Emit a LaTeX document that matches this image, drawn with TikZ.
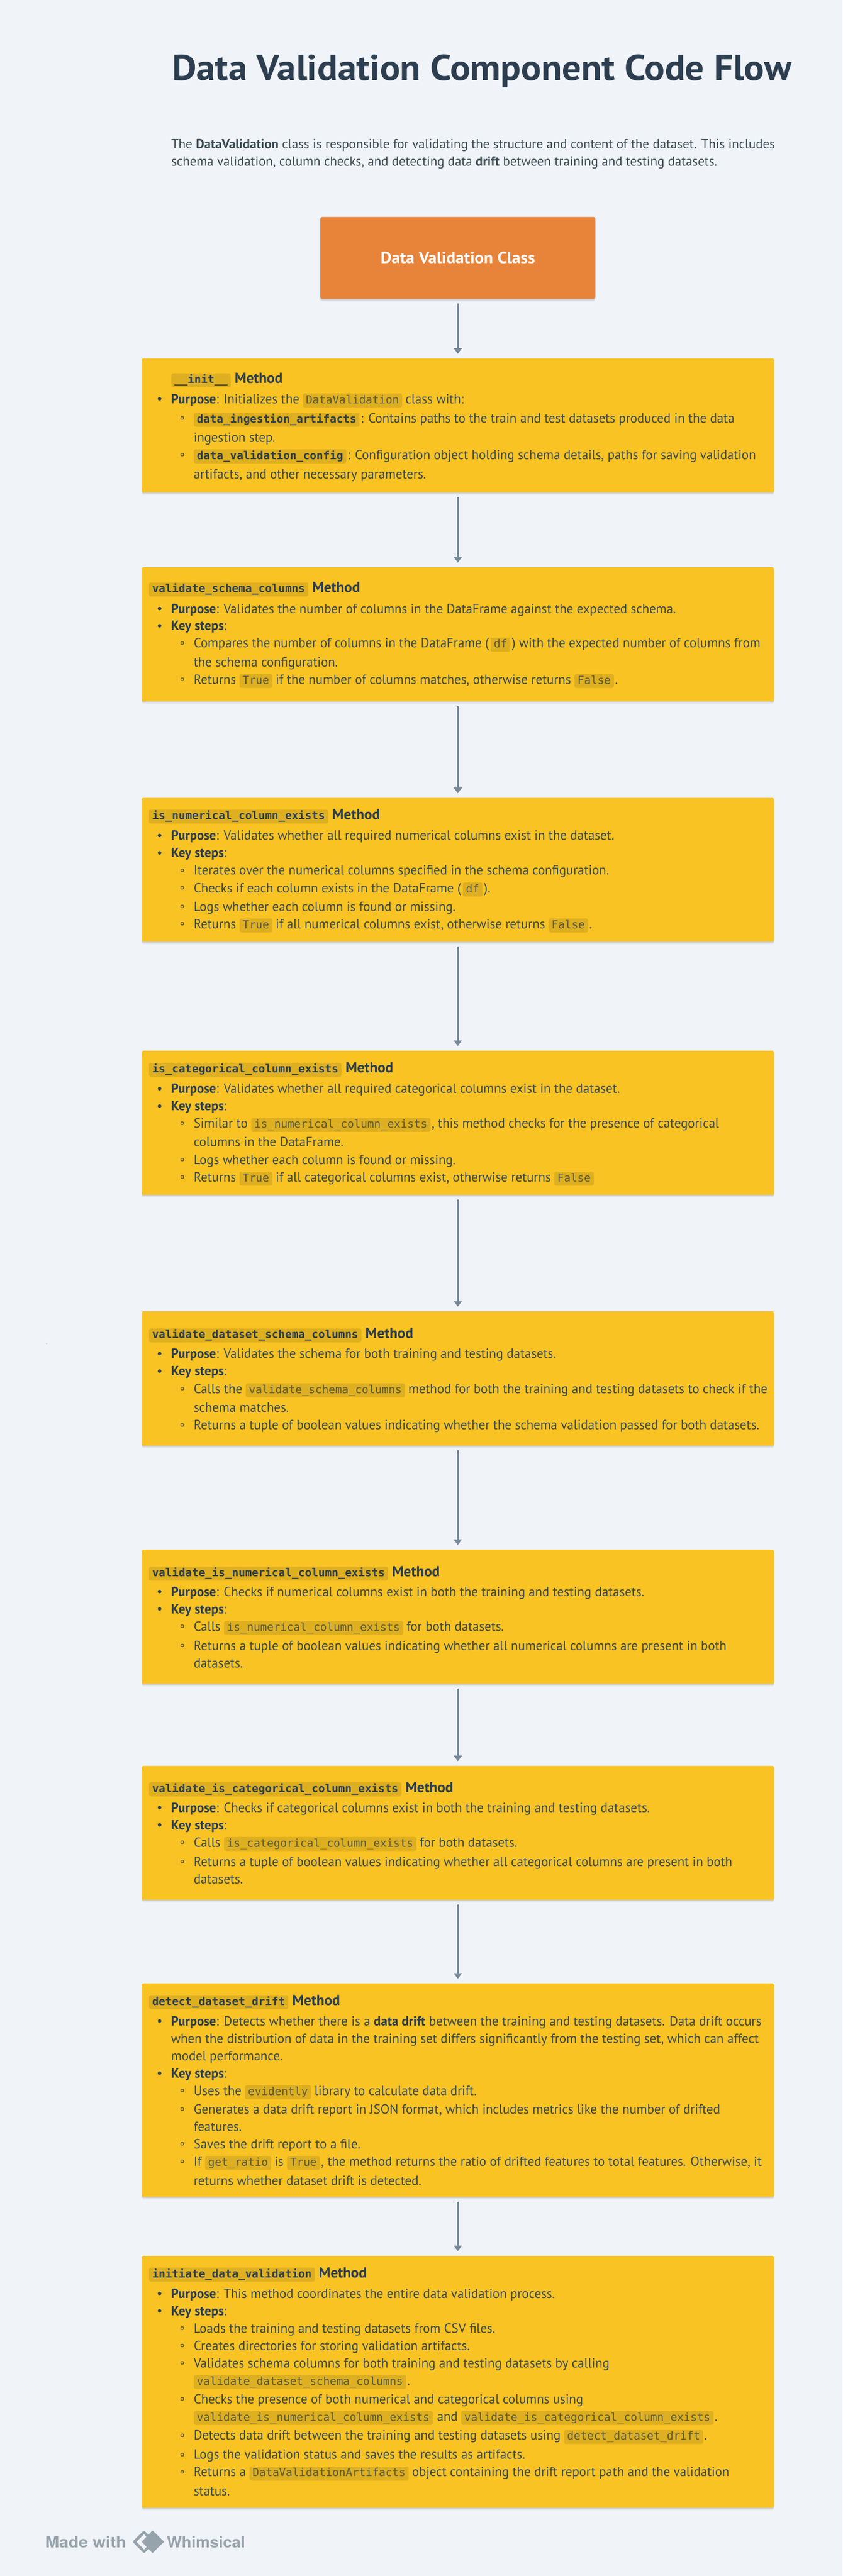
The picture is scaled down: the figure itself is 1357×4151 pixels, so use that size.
\documentclass[tikz,border=0pt]{standalone}
\usepackage{fontspec}
\usetikzlibrary{arrows.meta,shadows}
\setmainfont{PT Sans}
\newfontfamily\bodyf{PT Sans}[FakeStretch=0.98]
\newfontfamily\titlef{PT Sans}[FakeStretch=1.05]
\newfontfamily\classf{PT Sans}[FakeStretch=1.06]
\newfontfamily\methf{PT Sans}[FakeStretch=1.0]
\newfontfamily\codef{DejaVu Sans Mono}
\newfontfamily\footf{TeX Gyre Heros}[FakeStretch=1.08]
\newfontfamily\footg{TeX Gyre Heros}[FakeStretch=1.02]
\definecolor{bgc}{HTML}{F0F4F8}
\definecolor{yel}{HTML}{F9C324}
\definecolor{org}{HTML}{E8833A}
\definecolor{arrc}{HTML}{778899}
\definecolor{bodyc}{HTML}{3A4A52}
\definecolor{darkc}{HTML}{2C3E50}
\definecolor{codebg}{HTML}{DEAF20}
\definecolor{codec}{HTML}{585A40}
\definecolor{footc}{HTML}{97A3AC}
\tikzset{
  txt/.style={font=\bodyf\fontsize{21.5}{24}\selectfont,text=bodyc,inner sep=0pt,outer sep=0pt,anchor=base west},
  meth/.style={font=\methf\bfseries\fontsize{23.5}{26}\selectfont,text=darkc,inner sep=0pt,outer sep=0pt,anchor=base west},
  codebox/.style={fill=codebg,rounded corners=3pt,inner xsep=5pt,inner ysep=0pt,outer sep=0pt,text height=16pt,text depth=6.5pt,anchor=base west,font=\codef\fontsize{17.8}{20}\selectfont,text=codec},
  codebold/.style={codebox,font=\codef\bfseries\fontsize{17.8}{20}\selectfont,text=darkc},
  ybox/.style={fill=yel,rounded corners=3pt,inner sep=0pt,outer sep=0pt,minimum width=1019pt,
    drop shadow={shadow xshift=0pt,shadow yshift=-2pt,opacity=.10,fill=black},
    drop shadow={shadow xshift=0pt,shadow yshift=-4pt,opacity=.05,fill=black}},
  obox/.style={fill=org,rounded corners=3pt,inner sep=0pt,outer sep=0pt,minimum width=443pt,minimum height=132pt,
    drop shadow={shadow xshift=0pt,shadow yshift=-2pt,opacity=.10,fill=black},
    drop shadow={shadow xshift=0pt,shadow yshift=-4pt,opacity=.05,fill=black}},
  arr/.style={draw=arrc,line width=3.2pt,-{Triangle[length=9pt,width=13pt]},shorten <=7.5pt,shorten >=7.5pt},
}
\newcount\nn
\newcommand\LN[2]{\gdef\curpos{#1,-#2}}
\newcommand\T[2][0]{\global\advance\nn 1 \node[txt] (n\the\nn) at ([xshift=#1pt]\curpos) {#2}; \xdef\curpos{n\the\nn.base east}}
\newcommand\C[2][5.5]{\global\advance\nn 1 \node[codebox] (n\the\nn) at ([xshift=#1pt]\curpos) {#2}; \xdef\curpos{n\the\nn.base east}}
\newcommand\CB[2][0]{\global\advance\nn 1 \node[codebold] (n\the\nn) at ([xshift=#1pt]\curpos) {#2}; \xdef\curpos{n\the\nn.base east}}
\newcommand\M{\global\advance\nn 1 \node[meth] (n\the\nn) at ([xshift=6.5pt]\curpos) {Method};}
\newcommand\PL[1]{\fill[darkc] (257,{-#1+7.4}) circle (2.9); \LN{275.7}{#1}}
\newcommand\SL[1]{\draw[codec,line width=1.2pt] (293.5,{-#1+7.4}) circle (2.4); \LN{312}{#1}}
\newcommand\CL[1]{\LN{312}{#1}}
\newcommand\TL[3]{\LN{#1}{#2}\CB{#3}\M}
\newcommand\BX[3]{\node[ybox,minimum height={(#3-#2)*1pt}] (#1) at (737.5,{-(#2+#3)/2}) {};}
\begin{document}
\begin{tikzpicture}[x=1pt,y=1pt]
\useasboundingbox (0,0) rectangle (1357,-4151);
\fill[bgc] (0,0) rectangle (1357,-4151);
% title
\node[inner sep=0pt,anchor=base west,text=darkc,font=\titlef\bfseries\fontsize{58}{62}\selectfont] (title) at (277,-130) {Data Validation Component Code Flow};
\LN{276}{239}\T{The \textbf{DataValidation} class is responsible for validating the structure and content of the dataset. This includes}
\LN{276}{267}\T{schema validation, column checks, and detecting data \textbf{drift} between training and testing datasets.}
% boxes
\node[obox] (cls) at (737.5,-415.6) {};
\node[inner sep=0pt,text=white,font=\classf\bfseries\fontsize{26}{28}\selectfont] (clst) at (cls.center) {Data Validation Class};
\BX{b1}{577.5}{793.3}
\BX{b2}{914}{1130}
\BX{b3}{1285.7}{1517.4}
\BX{b4}{1693}{1925.4}
\BX{b5}{2113}{2329.5}
\BX{b6}{2497}{2713.4}
\BX{b7}{2845.5}{3061.3}
\BX{b8}{3196}{3540}
\BX{b9}{3635}{4040.7}
\draw[arr] (cls.south) -- (b1.north);
\draw[arr] (b1.south) -- (b2.north);
\draw[arr] (b2.south) -- (b3.north);
\draw[arr] (b3.south) -- (b4.north);
\draw[arr] (b4.south) -- (b5.north);
\draw[arr] (b5.south) -- (b6.north);
\draw[arr] (b6.south) -- (b7.north);
\draw[arr] (b7.south) -- (b8.north);
\draw[arr] (b8.south) -- (b9.north);
% box 1
\TL{276}{617.7}{\_\_init\_\_}
\PL{650}\T{\textbf{\color{darkc}Purpose}: Initializes the}\C{DataValidation}\T[5.5]{class with:}
\SL{681}\CB{data\_ingestion\_artifacts}\T[2]{: Contains paths to the train and test datasets produced in the data}
\CL{712}\T{ingestion step.}
\SL{740}\CB{data\_validation\_config}\T[2]{: Configuration object holding schema details, paths for saving validation}
\CL{771}\T{artifacts, and other necessary parameters.}
% box 2
\TL{240}{954.5}{validate\_schema\_columns}
\PL{988}\T{\textbf{\color{darkc}Purpose}: Validates the number of columns in the DataFrame against the expected schema.}
\PL{1015.7}\T{\textbf{\color{darkc}Key steps}:}
\SL{1043.6}\T{Compares the number of columns in the DataFrame (}\C[3]{df}\T[2.5]{) with the expected number of columns from}
\CL{1074}\T{the schema configuration.}
\SL{1102}\T{Returns}\C{True}\T[5.5]{if the number of columns matches, otherwise returns}\C{False}\T[2]{.}
% box 3
\TL{240}{1320.5}{is\_numerical\_column\_exists}
\PL{1353.6}\T{\textbf{\color{darkc}Purpose}: Validates whether all required numerical columns exist in the dataset.}
\PL{1381.7}\T{\textbf{\color{darkc}Key steps}:}
\SL{1409.8}\T{Iterates over the numerical columns specified in the schema configuration.}
\SL{1438}\T{Checks if each column exists in the DataFrame (}\C[3]{df}\T[2.5]{).}
\SL{1468}\T{Logs whether each column is found or missing.}
\SL{1496}\T{Returns}\C{True}\T[5.5]{if all numerical columns exist, otherwise returns}\C{False}\T[2]{.}
% box 4
\TL{240}{1728.6}{is\_categorical\_column\_exists}
\PL{1761.6}\T{\textbf{\color{darkc}Purpose}: Validates whether all required categorical columns exist in the dataset.}
\PL{1789.7}\T{\textbf{\color{darkc}Key steps}:}
\SL{1817.4}\T{Similar to}\C{is\_numerical\_column\_exists}\T[2]{, this method checks for the presence of categorical}
\CL{1847.8}\T{columns in the DataFrame.}
\SL{1876}\T{Logs whether each column is found or missing.}
\SL{1904}\T{Returns}\C{True}\T[5.5]{if all categorical columns exist, otherwise returns}\C{False}
% box 5
\TL{240}{2156.5}{validate\_dataset\_schema\_columns}
\PL{2188.7}\T{\textbf{\color{darkc}Purpose}: Validates the schema for both training and testing datasets.}
\PL{2216.6}\T{\textbf{\color{darkc}Key steps}:}
\SL{2245}\T{Calls the}\C{validate\_schema\_columns}\T[5.5]{method for both the training and testing datasets to check if the}
\CL{2275.6}\T{schema matches.}
\SL{2303.5}\T{Returns a tuple of boolean values indicating whether the schema validation passed for both datasets.}
\node[inner sep=0pt,text=darkc,font=\bodyf\fontsize{7}{8}\selectfont] (dot) at (75,-2166) {.};
% box 6
\TL{240}{2540.5}{validate\_is\_numerical\_column\_exists}
\PL{2572}\T{\textbf{\color{darkc}Purpose}: Checks if numerical columns exist in both the training and testing datasets.}
\PL{2600}\T{\textbf{\color{darkc}Key steps}:}
\SL{2628}\T{Calls}\C{is\_numerical\_column\_exists}\T[5.5]{for both datasets.}
\SL{2659}\T{Returns a tuple of boolean values indicating whether all numerical columns are present in both}
\CL{2687}\T{datasets.}
% box 7
\TL{240}{2888}{validate\_is\_categorical\_column\_exists}
\PL{2920}\T{\textbf{\color{darkc}Purpose}: Checks if categorical columns exist in both the training and testing datasets.}
\PL{2948}\T{\textbf{\color{darkc}Key steps}:}
\SL{2976}\T{Calls}\C{is\_categorical\_column\_exists}\T[5.5]{for both datasets.}
\SL{3007}\T{Returns a tuple of boolean values indicating whether all categorical columns are present in both}
\CL{3035}\T{datasets.}
% box 8
\TL{240}{3231}{detect\_dataset\_drift}
\PL{3264}\T{\textbf{\color{darkc}Purpose}: Detects whether there is a \textbf{\color{darkc}data drift} between the training and testing datasets. Data drift occurs}
\LN{275.7}{3292}\T{when the distribution of data in the training set differs significantly from the testing set, which can affect}
\LN{275.7}{3320}\T{model performance.}
\PL{3348}\T{\textbf{\color{darkc}Key steps}:}
\SL{3376}\T{Uses the}\C{evidently}\T[5.5]{library to calculate data drift.}
\SL{3406}\T{Generates a data drift report in JSON format, which includes metrics like the number of drifted}
\CL{3434}\T{features.}
\SL{3462}\T{Saves the drift report to a file.}
\SL{3490}\T{If}\C{get\_ratio}\T[5.5]{is}\C{True}\T[2]{, the method returns the ratio of drifted features to total features. Otherwise, it}
\CL{3521}\T{returns whether dataset drift is detected.}
% box 9
\TL{240}{3670}{initiate\_data\_validation}
\PL{3703}\T{\textbf{\color{darkc}Purpose}: This method coordinates the entire data validation process.}
\PL{3731}\T{\textbf{\color{darkc}Key steps}:}
\SL{3759}\T{Loads the training and testing datasets from CSV files.}
\SL{3787}\T{Creates directories for storing validation artifacts.}
\SL{3815}\T{Validates schema columns for both training and testing datasets by calling}
\CL{3843}\C[0]{validate\_dataset\_schema\_columns}\T[2]{.}
\SL{3873}\T{Checks the presence of both numerical and categorical columns using}
\CL{3901}\C[0]{validate\_is\_numerical\_column\_exists}\T[7]{and}\C{validate\_is\_categorical\_column\_exists}\T[2]{.}
\SL{3931.7}\T{Detects data drift between the training and testing datasets using}\C{detect\_dataset\_drift}\T[2]{.}
\SL{3962.7}\T{Logs the validation status and saves the results as artifacts.}
\SL{3990.7}\T{Returns a}\C{DataValidationArtifacts}\T[5.5]{object containing the drift report path and the validation}
\CL{4021.7}\T{status.}
% footer
\node[inner sep=0pt,anchor=base west,text=footc,font=\footf\bfseries\fontsize{25}{28}\selectfont] (made) at (72.7,-4105) {Made with};
\node[inner sep=0pt,anchor=base west,text=footc,font=\footg\bfseries\fontsize{25}{28}\selectfont] (whim) at (268.6,-4105) {Whimsical};
\draw[footc,line width=4.5pt,line join=round] (216.5,-4095.7) -- (232,-4080.5) -- (247.5,-4095.7) -- (232,-4111.5) -- cycle;
\fill[footc] (245.7,-4077.5) -- (264.3,-4095.7) -- (245.7,-4114) -- (228.3,-4095.7) -- cycle;
\end{tikzpicture}
\end{document}
